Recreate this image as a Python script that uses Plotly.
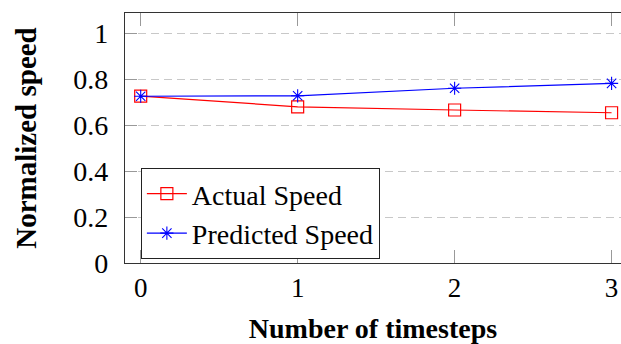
import plotly.graph_objects as go

timesteps = [0, 1, 2, 3]
actual_speed = [0.728, 0.681, 0.667, 0.655]
predicted_speed = [0.727, 0.729, 0.762, 0.783]
y_ticks = [0, 0.2, 0.4, 0.6, 0.8, 1]
y_tick_labels = ["0", "0.2", "0.4", "0.6", "0.8", "1"]
x_ticks = [0, 1, 2, 3]

fig = go.Figure()
fig.add_trace(go.Scatter(
    x=timesteps, y=actual_speed, name="Actual Speed", mode="lines+markers",
    line=dict(color="#ff0000", width=1.2),
    marker=dict(symbol="square-open", size=12, color="#ff0000", line=dict(width=1.2)),
))
fig.add_trace(go.Scatter(
    x=timesteps, y=predicted_speed, name="Predicted Speed", mode="lines+markers",
    line=dict(color="#0000ff", width=1.2),
    marker=dict(symbol="asterisk-open", size=11, color="#0000ff", line=dict(width=1.1, color="#0000ff")),
))

serif = "Liberation Serif"

fig.update_layout(
    width=621, height=344,
    margin=dict(l=125, r=0, t=13, b=81),
    plot_bgcolor="white", paper_bgcolor="white",
    font=dict(family=serif, size=27, color="black"),
    showlegend=True,
    legend=dict(
        x=0.032, y=0.38, xanchor="left", yanchor="top",
        bgcolor="white", bordercolor="#222222", borderwidth=1,
        font=dict(family=serif, size=28, color="black"),
        tracegroupgap=0, itemwidth=40,
    ),
)
fig.update_xaxes(
    range=[-0.1, 3.06], tickmode="array", tickvals=x_ticks,
    ticks="inside", ticklen=13, tickcolor="#999999", tickwidth=1,
    showline=True, linecolor="#333333", linewidth=1.2, mirror="ticks",
    showgrid=False, zeroline=False,
    tickfont=dict(family=serif, size=27, color="black"),
    title=dict(text="<b>Number of timesteps</b>", font=dict(family=serif, size=28, color="black"), standoff=20),
)
fig.update_yaxes(
    range=[0, 1.09], tickmode="array", tickvals=y_ticks, ticktext=y_tick_labels,
    ticks="inside", ticklen=12, tickcolor="#999999", tickwidth=1,
    showline=True, linecolor="#333333", linewidth=1.2, mirror=False,
    showgrid=True, gridcolor="#c8c8c8", gridwidth=1, griddash="8px,5px",
    zeroline=False, ticklabelstandoff=10,
    tickfont=dict(family=serif, size=28, color="black"),
    title=dict(text="<b>Normalized speed</b>", font=dict(family=serif, size=29, color="black"), standoff=28),
)

fig.write_html("out.html")
